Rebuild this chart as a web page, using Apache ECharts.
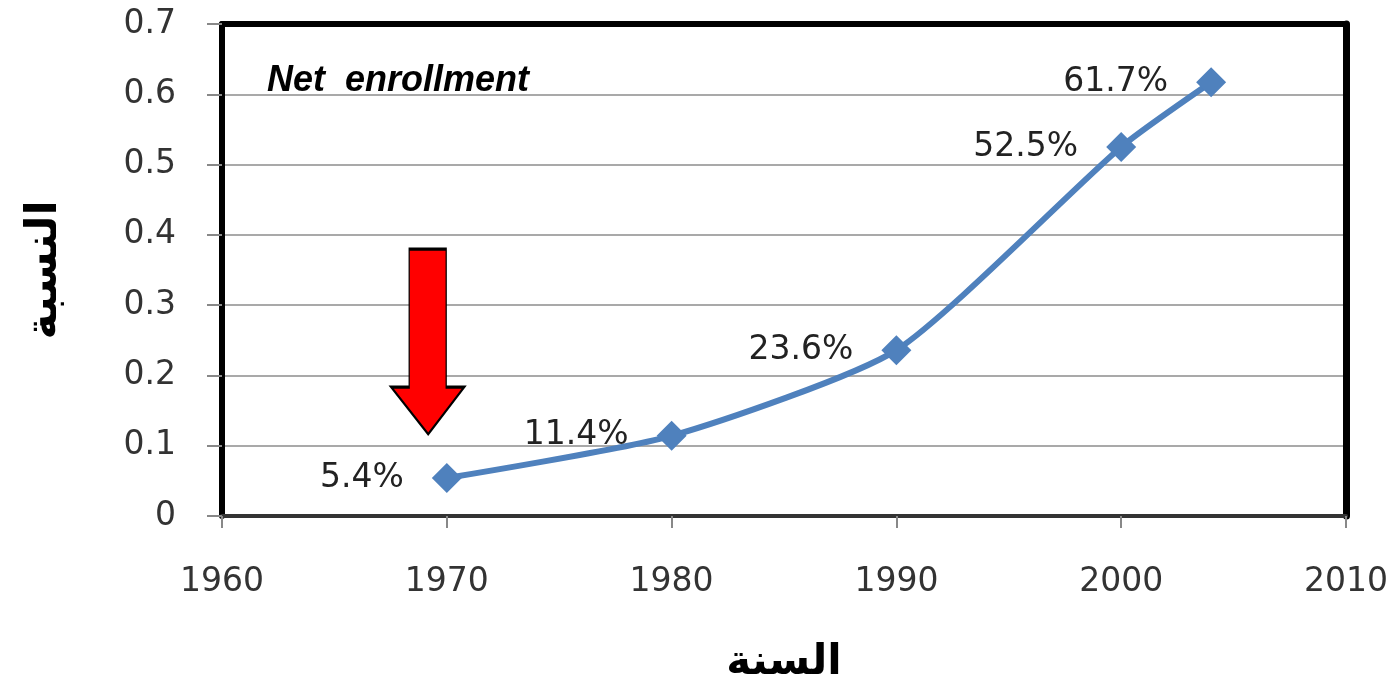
<!DOCTYPE html>
<html>
<head>
<meta charset="utf-8">
<script src="https://cdn.jsdelivr.net/npm/echarts@6/dist/echarts.min.js"></script>
<style>
  html, body { margin: 0; padding: 0; background: #fff; }
  #chart { width: 1397px; height: 700px; }
</style>
</head>
<body>
<div id="chart"></div>
<script>
// data
const years = [1970, 1980, 1990, 2000, 2004];
const ratios = [0.054, 0.114, 0.236, 0.525, 0.617];
const pctLabels = ["5.4%", "11.4%", "23.6%", "52.5%", "61.7%"];
const xTicks = [1960, 2010, 10];
const yTicks = [0, 0.7, 0.1];

// red arrow annotation (placed in data space)
const arrowAt = [1969.15, 0.248];
const arrowPath = "path://M18,0 L55,0 L55,138 L73,138 L37,185 L0,138 L18,138 Z";

const chart = echarts.init(document.getElementById("chart"));
const numFont = "DejaVu Sans";

chart.setOption({
  animation: false,
  title: {
    text: "Net  enrollment",
    left: 262,
    top: 58,
    textStyle: {
      fontFamily: "Liberation Sans",
      fontStyle: "italic",
      fontWeight: "bold",
      fontSize: 36,
      color: "#000",
    },
  },
  grid: {
    left: 222,
    right: 51,
    top: 24,
    bottom: 184,
    outerBoundsMode: "none",
    containLabel: false,
    show: false,
  },
  xAxis: [
    {
      type: "value",
      min: xTicks[0],
      max: xTicks[1],
      interval: xTicks[2],
      name: "السنة",
      nameLocation: "middle",
      nameGap: 126,
      nameTextStyle: {
        fontFamily: "DejaVu Sans",
        fontWeight: "bold",
        fontSize: 42,
        color: "#000",
      },
      axisLine: { show: true, onZero: false, lineStyle: { color: "#333", width: 4 } },
      axisTick: { show: true, length: 12, lineStyle: { color: "#888", width: 2 } },
      axisLabel: {
        margin: 50,
        fontFamily: numFont,
        fontSize: 33,
        color: "#333",
        formatter: (v) => String(v),
      },
      splitLine: { show: false },
    },
    {
      // top frame edge
      type: "value",
      position: "top",
      min: xTicks[0],
      max: xTicks[1],
      axisLine: { show: true, onZero: false, lineStyle: { color: "#000", width: 6 } },
      axisTick: { show: false },
      axisLabel: { show: false },
      splitLine: { show: false },
    },
  ],
  yAxis: [
    {
      type: "value",
      min: yTicks[0],
      max: yTicks[1],
      interval: yTicks[2],
      name: "النسبة",
      nameLocation: "middle",
      nameGap: 155,
      nameRotate: 90,
      nameTextStyle: {
        fontFamily: "DejaVu Sans",
        fontWeight: "bold",
        fontSize: 44,
        color: "#000",
      },
      axisLine: { show: true, onZero: false, lineStyle: { color: "#000", width: 6 } },
      axisTick: { show: true, inside: false, length: 15, lineStyle: { color: "#888", width: 2 } },
      axisLabel: {
        margin: 46,
        fontFamily: numFont,
        fontSize: 33,
        color: "#333",
      },
      splitLine: { show: true, lineStyle: { color: "#8c8c8c", width: 1.5 } },
    },
    {
      // right frame edge
      type: "value",
      position: "right",
      min: yTicks[0],
      max: yTicks[1],
      axisLine: { show: true, onZero: false, lineStyle: { color: "#000", width: 7 } },
      axisTick: { show: false },
      axisLabel: { show: false },
      splitLine: { show: false },
    },
  ],
  series: [
    {
      type: "line",
      data: years.map((y, i) => [y, ratios[i]]),
      smooth: 0.2,
      symbol: "diamond",
      symbolSize: 30,
      lineStyle: { color: "#4f81bd", width: 6 },
      itemStyle: { color: "#4f81bd" },
      label: {
        show: true,
        position: "left",
        distance: 28,
        fontFamily: numFont,
        fontSize: 33,
        color: "#222",
        formatter: (p) => pctLabels[p.dataIndex],
      },
      markPoint: {
        symbol: arrowPath,
        symbolSize: [73, 185],
        silent: true,
        itemStyle: { color: "#ff0000", borderColor: "#000", borderWidth: 2 },
        label: { show: false },
        data: [{ coord: arrowAt }],
      },
      z: 3,
    },
  ],
});
</script>
</body>
</html>
